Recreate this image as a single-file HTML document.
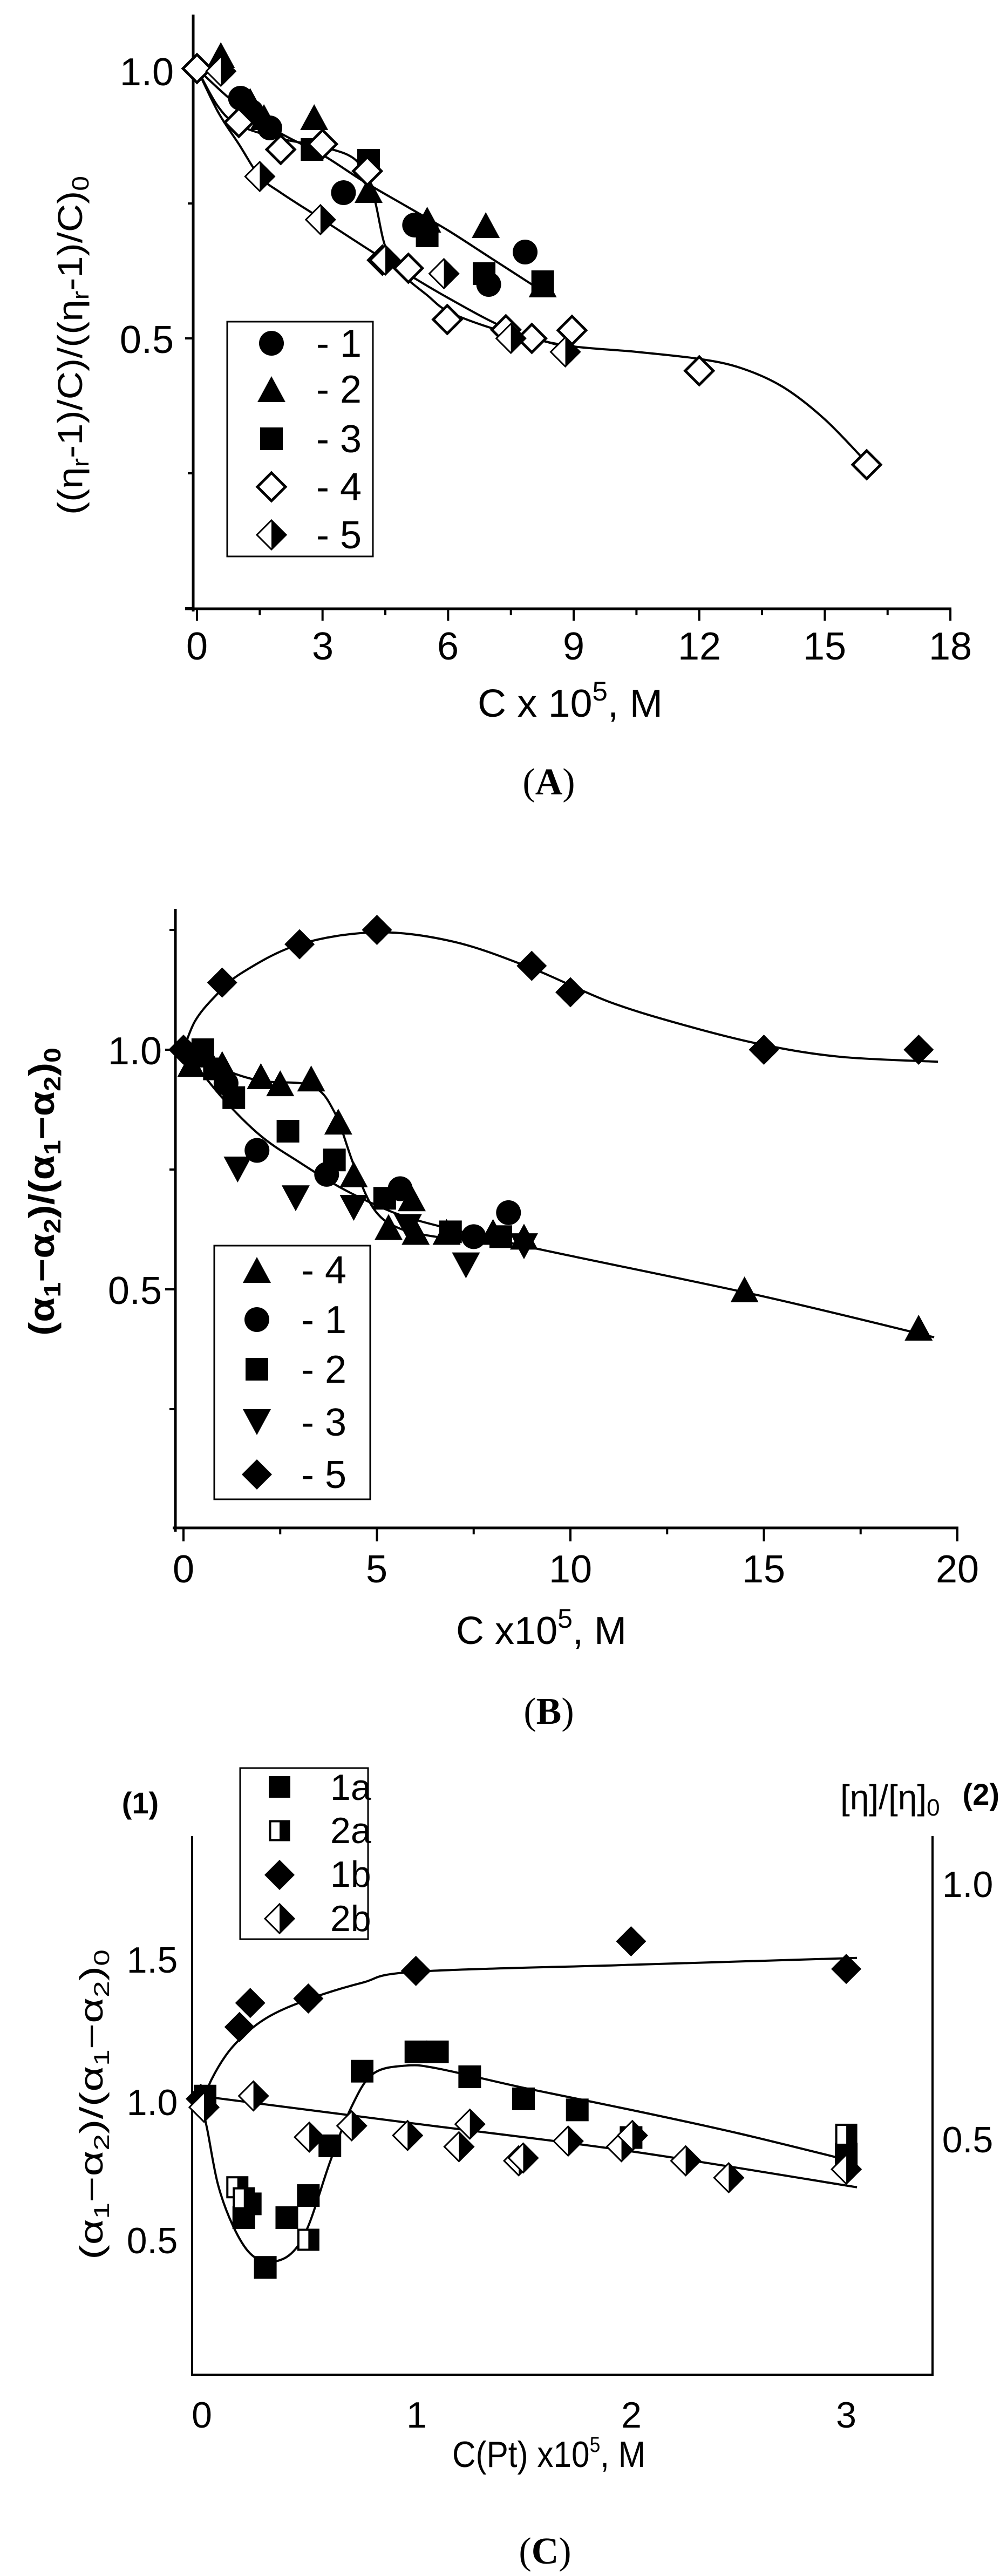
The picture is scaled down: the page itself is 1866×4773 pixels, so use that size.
<!DOCTYPE html>
<html><head><meta charset="utf-8"><style>
html,body{margin:0;padding:0;background:#fff;}
svg{display:block}
text{font-family:"Liberation Sans",sans-serif;fill:#000}
.cap{font-family:"Liberation Serif",serif;font-size:70px}
</style></head><body>
<svg id="s" width="1866" height="4773" viewBox="0 0 1866 4773" xmlns="http://www.w3.org/2000/svg">
<rect width="1866" height="4773" fill="#fff"/>
<g stroke="#000" stroke-width="5" fill="none">
<line x1="358" y1="27" x2="358" y2="1133"/>
<line x1="343" y1="1128" x2="1763" y2="1128"/>
<line x1="325" y1="1684" x2="325" y2="2838"/>
<line x1="320" y1="2831" x2="1776" y2="2831"/>
<line x1="356" y1="3402" x2="356" y2="4402" stroke-width="4"/>
<line x1="1728" y1="3402" x2="1728" y2="4402" stroke-width="4"/>
<line x1="354" y1="4400" x2="1730" y2="4400" stroke-width="4"/>
</g>
<g id="ticks" stroke="#000" stroke-width="4"></g>
<g id="curves" stroke="#000" stroke-width="4" fill="none"></g>
<g id="marks"></g>
<rect x="421" y="596" width="270" height="435" fill="#fff" stroke="#000" stroke-width="3"/>
<rect x="397" y="2308" width="289" height="470" fill="#fff" stroke="#000" stroke-width="3"/>
<rect x="445" y="3276" width="237" height="317" fill="#fff" stroke="#000" stroke-width="3"/>
<g id="legm"></g>

<g font-size="72">
<text x="322" y="158" text-anchor="end">1.0</text>
<text x="322" y="654" text-anchor="end">0.5</text>
<g text-anchor="middle">
<text x="365" y="1222">0</text><text x="598" y="1222">3</text><text x="830" y="1222">6</text>
<text x="1063" y="1222">9</text><text x="1296" y="1222">12</text><text x="1528" y="1222">15</text><text x="1761" y="1222">18</text>
</g>
<text x="586" y="661">- 1</text><text x="586" y="746">- 2</text><text x="586" y="838">- 3</text><text x="586" y="927">- 4</text><text x="586" y="1016">- 5</text>
<text x="885" y="1328" textLength="343" lengthAdjust="spacingAndGlyphs">C x 10<tspan dy="-30" font-size="50">5</tspan><tspan dy="30">, M</tspan></text>
</g>
<text transform="translate(152,954) rotate(-90)" font-size="64" textLength="628" lengthAdjust="spacingAndGlyphs">((η<tspan dy="12" font-size="44">r</tspan><tspan dy="-12">-1)/C)/((η</tspan><tspan dy="12" font-size="44">r</tspan><tspan dy="-12">-1)/C)</tspan><tspan dy="12" font-size="44">0</tspan></text>
<text class="cap" x="1017" y="1472" text-anchor="middle">(<tspan font-weight="bold">A</tspan>)</text>

<g font-size="72">
<text x="300" y="1972" text-anchor="end">1.0</text>
<text x="300" y="2416" text-anchor="end">0.5</text>
<g text-anchor="middle">
<text x="340" y="2932">0</text><text x="698" y="2932">5</text><text x="1057" y="2932">10</text><text x="1415" y="2932">15</text><text x="1774" y="2932">20</text>
</g>
<text x="558" y="2378">- 4</text><text x="558" y="2470">- 1</text><text x="558" y="2562">- 2</text><text x="558" y="2660">- 3</text><text x="558" y="2757">- 5</text>
<text x="845" y="3046" textLength="316" lengthAdjust="spacingAndGlyphs">C x10<tspan dy="-30" font-size="50">5</tspan><tspan dy="30">, M</tspan></text>
</g>
<text transform="translate(100,2475) rotate(-90)" font-size="66" font-weight="bold" textLength="534" lengthAdjust="spacingAndGlyphs">(α<tspan dy="12" font-size="44">1</tspan><tspan dy="-12">−α</tspan><tspan dy="12" font-size="44">2</tspan><tspan dy="-12">)/(α</tspan><tspan dy="12" font-size="44">1</tspan><tspan dy="-12">−α</tspan><tspan dy="12" font-size="44">2</tspan><tspan dy="-12">)</tspan><tspan dy="12" font-size="44">0</tspan></text>
<text class="cap" x="1017" y="3194" text-anchor="middle">(<tspan font-weight="bold">B</tspan>)</text>

<g font-size="68">
<text x="282" y="3655" text-anchor="middle">1.5</text>
<text x="282" y="3919" text-anchor="middle">1.0</text>
<text x="282" y="4175" text-anchor="middle">0.5</text>
<text x="1793" y="3515" text-anchor="middle">1.0</text>
<text x="1793" y="3988" text-anchor="middle">0.5</text>
<g text-anchor="middle">
<text x="374" y="4498">0</text><text x="772" y="4498">1</text><text x="1170" y="4498">2</text><text x="1568" y="4498">3</text>
</g>
<text x="612" y="3335">1a</text><text x="612" y="3415">2a</text><text x="612" y="3496">1b</text><text x="612" y="3578">2b</text>
<text x="838" y="4571" textLength="358" lengthAdjust="spacingAndGlyphs">C(Pt) x10<tspan dy="-28" font-size="40">5</tspan><tspan dy="28">, M</tspan></text>
</g>
<text x="260" y="3360" text-anchor="middle" font-size="56" font-weight="bold">(1)</text>
<text x="1557" y="3352" font-size="64" font-family="Liberation Serif, serif">[η]/[η]<tspan dy="12" font-size="44" font-family="Liberation Sans, sans-serif">0</tspan></text>
<text x="1852" y="3344" text-anchor="end" font-size="56" font-weight="bold">(2)</text>
<text transform="translate(190,4187) rotate(-90)" font-size="60" textLength="575" lengthAdjust="spacingAndGlyphs">(α<tspan dy="12" font-size="40">1</tspan><tspan dy="-12">−α</tspan><tspan dy="12" font-size="40">2</tspan><tspan dy="-12">)/(α</tspan><tspan dy="12" font-size="40">1</tspan><tspan dy="-12">−α</tspan><tspan dy="12" font-size="40">2</tspan><tspan dy="-12">)</tspan><tspan dy="12" font-size="40">0</tspan></text>
<text class="cap" x="1010" y="4750" text-anchor="middle">(<tspan font-weight="bold">C</tspan>)</text>
</svg>
<script>
var NS="http://www.w3.org/2000/svg";
function el(p,t,a){var e=document.createElementNS(NS,t);for(var k in a)e.setAttribute(k,a[k]);p.appendChild(e);return e;}
var G=document.getElementById('marks'),T=document.getElementById('ticks'),C=document.getElementById('curves'),L=document.getElementById('legm');
function mk(g,type,x,y,s){
 s=s||1;
 if(type=='c')el(g,'circle',{cx:x,cy:y,r:23*s,fill:'#000'});
 else if(type=='t'){var w=26*s,h=24*s;el(g,'polygon',{points:(x-w)+','+(y+h)+' '+(x+w)+','+(y+h)+' '+x+','+(y-h),fill:'#000'});}
 else if(type=='v'){var w=26*s,h=24*s;el(g,'polygon',{points:(x-w)+','+(y-h)+' '+(x+w)+','+(y-h)+' '+x+','+(y+h),fill:'#000'});}
 else if(type=='s'){var a=21*s;el(g,'rect',{x:x-a,y:y-a,width:2*a,height:2*a,fill:'#000'});}
 else if(type=='d'){var a=28*s;el(g,'polygon',{points:(x-a)+','+y+' '+x+','+(y-a)+' '+(x+a)+','+y+' '+x+','+(y+a),fill:'#000'});}
 else if(type=='o'){var a=26*s;el(g,'polygon',{points:(x-a)+','+y+' '+x+','+(y-a)+' '+(x+a)+','+y+' '+x+','+(y+a),fill:'#fff',stroke:'#000','stroke-width':5});}
 else if(type=='h'){var a=27*s;el(g,'polygon',{points:(x-a)+','+y+' '+x+','+(y-a)+' '+(x+a)+','+y+' '+x+','+(y+a),fill:'#fff',stroke:'#000','stroke-width':3});
   el(g,'polygon',{points:x+','+(y-a)+' '+(x+a)+','+y+' '+x+','+(y+a),fill:'#000'});}
 else if(type=='q'){var a=20*s;el(g,'rect',{x:x-a+1.5,y:y-a+1.5,width:2*a-3,height:2*a-3,fill:'#fff',stroke:'#000','stroke-width':4});
   el(g,'rect',{x:x,y:y-a,width:a,height:2*a,fill:'#000'});}
}
function cr(pts){var d='M'+pts[0][0]+','+pts[0][1];
 for(var i=0;i<pts.length-1;i++){var p0=pts[i-1]||pts[i],p1=pts[i],p2=pts[i+1],p3=pts[i+2]||p2;
 d+=' C'+(p1[0]+(p2[0]-p0[0])/6)+','+(p1[1]+(p2[1]-p0[1])/6)+' '+(p2[0]-(p3[0]-p1[0])/6)+','+(p2[1]-(p3[1]-p1[1])/6)+' '+p2[0]+','+p2[1];}
 return d;}
function panel(fx,fy,curves,series){
 curves.forEach(function(c){el(C,'path',{d:cr(c.map(function(p){return [fx(p[0]),fy(p[1])];}))});});
 series.forEach(function(sr){sr[1].forEach(function(p){mk(G,sr[0],fx(p[0]),fy(p[1]));});});
}
var ax=function(x){return 365+x*77.56;},ay=function(y){return 1127-y*1000;};
[1,0.5,0].forEach(function(v){el(T,'line',{x1:343,y1:ay(v),x2:358,y2:ay(v)});});
[0.75,0.25].forEach(function(v){el(T,'line',{x1:348,y1:ay(v),x2:358,y2:ay(v)});});
for(var i=0;i<=12;i++){var x=ax(i*1.5);el(T,'line',{x1:x,y1:1128,x2:x,y2:i%2?1140:1150});}
panel(ax,ay,[
 [[0,1.0],[1,0.93],[2,0.88],[3,0.84],[4,0.79],[5,0.745],[6,0.70],[7,0.65],[8.2,0.59]],
 [[0,1.0],[0.5,0.93],[1,0.895],[2,0.87],[3,0.855],[3.8,0.83],[4.2,0.77],[4.5,0.67],[4.9,0.62],[5.5,0.58],[6,0.55],[7,0.52],[8,0.50],[9,0.485],[10.5,0.475],[12,0.462],[13,0.445],[14,0.41],[15,0.35],[16,0.27]],
 [[0,1.0],[0.5,0.92],[1,0.86],[1.5,0.80],[2,0.77],[3,0.72],[4.5,0.645],[6,0.575],[7.5,0.515],[9,0.48]]
],[
 ['c',[[1.04,0.945],[1.74,0.89],[3.5,0.77],[5.2,0.71],[6.97,0.60],[7.84,0.66],[1.3,0.92]]],
 ['t',[[0.57,1.025],[1.27,0.94],[2.8,0.91],[4.1,0.775],[5.5,0.72],[6.9,0.71],[8.26,0.60],[1.6,0.91]]],
 ['s',[[2.75,0.85],[4.1,0.83],[5.5,0.69],[6.86,0.62],[8.26,0.605]]],
 ['o',[[0,1.0],[1.0,0.90],[2.0,0.85],[3.0,0.86],[4.07,0.81],[4.43,0.645],[5.05,0.63],[5.98,0.535],[7.38,0.516],[8.0,0.50],[8.96,0.515],[12,0.44],[16,0.266]]],
 ['h',[[0.57,0.995],[1.5,0.80],[2.95,0.72],[4.5,0.645],[5.9,0.62],[7.5,0.50],[8.8,0.475]]]
]);
['c','t','s','o','h'].forEach(function(t,i){mk(L,t,503,[636,721,813,902,991][i]);});
var bx=function(x){return 340+x*71.7;},by=function(y){return 2833-y*888;};
[1,0.5].forEach(function(v){el(T,'line',{x1:306,y1:by(v),x2:325,y2:by(v)});});
[1.25,0.75,0.25].forEach(function(v){el(T,'line',{x1:314,y1:by(v),x2:325,y2:by(v)});});
for(var i=0;i<=8;i++){var x=bx(i*2.5);el(T,'line',{x1:x,y1:2831,x2:x,y2:i%2?2843:2856});}
panel(bx,by,[
 [[0,1.0],[0.3,1.06],[0.8,1.11],[1.5,1.16],[3,1.22],[5,1.245],[7,1.225],[9,1.17],[11,1.10],[13,1.05],[15,1.01],[17,0.985],[19.5,0.975]],
 [[0,1.0],[1,0.96],[2,0.935],[3.3,0.925],[3.9,0.87],[4.4,0.76],[4.9,0.67],[5.5,0.63],[6.5,0.61],[8,0.60]],
 [[0,1.0],[1,0.9],[2,0.82],[3,0.765],[4,0.715],[5,0.675],[6,0.645],[8,0.605],[10,0.57],[15,0.485],[19.4,0.40]]
],[
 ['d',[[0,1.0],[1,1.14],[3,1.22],[5,1.25],[9,1.175],[10,1.12],[15,1.0],[19,1.0]]],
 ['t',[[0.2,0.97],[0.6,0.99],[1.0,0.97],[2.0,0.945],[2.5,0.93],[3.3,0.94],[4,0.85],[4.4,0.74],[5.3,0.63],[5.9,0.69],[6.0,0.62],[6.8,0.62],[8.0,0.62],[8.8,0.61],[14.5,0.5],[19,0.42]]],
 ['c',[[1.1,0.93],[1.9,0.79],[3.7,0.74],[5.6,0.71],[7.5,0.61],[8.4,0.66]]],
 ['s',[[0.5,1.0],[0.8,0.96],[1.3,0.9],[2.7,0.83],[3.9,0.77],[5.2,0.69],[6.9,0.62],[8.2,0.61]]],
 ['v',[[1.4,0.75],[2.9,0.69],[4.4,0.67],[5.8,0.63],[7.3,0.55],[8.8,0.59]]]
]);
['t','c','s','v','d'].forEach(function(t,i){mk(L,t,476,[2353,2445,2537,2635,2732][i]);});
var cx=function(x){return 372+x*398.7;},cy=function(y){return 3894+(1-y)*512;};
function P(a){return a.map(function(p){return [(p[0]-313)/335,1-(p[1]-745)/490];});}
panel(cx,cy,[
 [[0,0.97],[0.05,1.08],[0.15,1.2],[0.3,1.3],[0.5,1.37],[0.75,1.43],[1,1.47],[2,1.495],[3.05,1.52]],
 [[0,1.0],[0.03,0.9],[0.08,0.7],[0.15,0.55],[0.23,0.45],[0.32,0.42],[0.42,0.45],[0.5,0.55],[0.6,0.78],[0.7,0.98],[0.8,1.1],[0.95,1.13],[1.1,1.12],[1.5,1.05],[2,0.97],[2.5,0.885],[3.05,0.78]],
 [[0,1.02],[1,0.92],[2,0.82],[3.05,0.69]]
],[
 ['d',[[0,1.01],[0.18,1.27],[0.23,1.357],[0.5,1.373],[1.0,1.473],[2.0,1.58],[3.0,1.48]]],
 ['s',[[0.02,1.02],[0.2,0.58],[0.23,0.63],[0.3,0.40],[0.4,0.58],[0.5,0.66],[0.6,0.84],[0.75,1.11],[1.0,1.18],[1.1,1.18],[1.25,1.09],[1.5,1.01],[1.75,0.97],[2.0,0.87],[3.0,0.81]]],
 ['q',[[0.17,0.69],[0.2,0.65],[0.5,0.5],[3.0,0.88]]],
 ['h',P([[318,755],[395,735],[482,808],[548,788],[635,805],[715,825],[732,785],[808,850],[815,845],[885,815],[968,825],[985,805],[1068,850],[1135,880],[1318,865]])]
]);
mk(L,'s',518,3311,0.95);mk(L,'q',518,3392,0.95);mk(L,'d',518,3474);mk(L,'h',518,3555);
</script>
</body></html>
